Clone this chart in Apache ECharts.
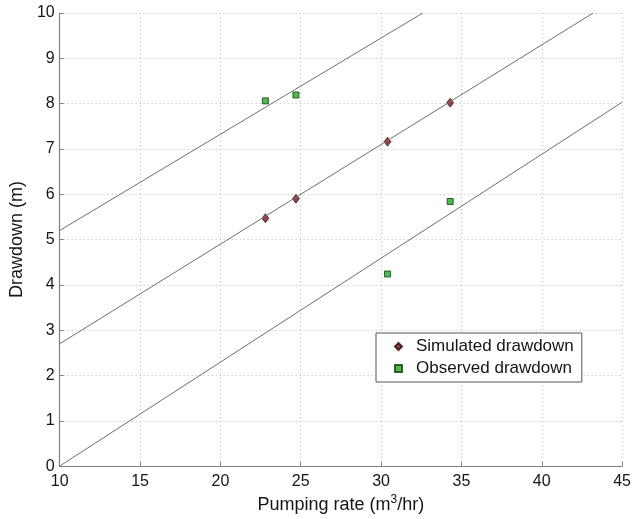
<!DOCTYPE html>
<html><head><meta charset="utf-8">
<script src="https://cdn.jsdelivr.net/npm/echarts@6/dist/echarts.min.js"></script>
<style>html,body{margin:0;padding:0;background:#fff}#c{width:634px;height:519px}</style>
</head><body><div id="c"></div>
<script>
const xTicks = [10, 15, 20, 25, 30, 35, 40, 45];
const yTicks = [0, 1, 2, 3, 4, 5, 6, 7, 8, 9, 10];
const pumpingRate = [22.8, 24.7, 30.4, 34.3];
const simulated = [5.47, 5.90, 7.16, 8.02];
const observed = [8.06, 8.19, 4.24, 5.84];
const upperLine = [[10, 5.2], [32.6, 10]];
const middleLine = [[10, 2.7], [43.2, 10]];
const lowerLine = [[10, 0], [45, 8.03]];

const chart = echarts.init(document.getElementById('c'), null, {renderer: 'canvas'});
const lineStyle = {color: '#6e6e6e', width: 1};
const font = 'Liberation Sans, Arial, sans-serif';
const txt = '#151515';
chart.setOption({
  backgroundColor: '#fff',
  animation: false,
  grid: {left: 54, right: 11, top: 13, bottom: 51, containLabel: false},
  xAxis: {
    type: 'value', min: xTicks[0], max: xTicks[xTicks.length - 1], interval: 5,
    axisLine: {show: true, lineStyle: {color: '#808080', width: 1.2}},
    axisTick: {show: true, inside: true, length: 4, lineStyle: {color: '#808080'}},
    axisLabel: {color: txt, fontSize: 16, fontFamily: font, margin: 7},
    splitLine: {show: true, lineStyle: {color: '#b8b8b8', type: [1, 3], width: 1}},
    name: 'Pumping rate (m{sup|3}/hr)', nameLocation: 'middle', nameGap: 19,
    nameTextStyle: {color: txt, fontSize: 18, fontFamily: font,
      rich: {sup: {fontSize: 12, verticalAlign: 'top', padding: [0, 0, 10, 0], fontFamily: font, color: txt}}}
  },
  yAxis: {
    type: 'value', min: yTicks[0], max: yTicks[yTicks.length - 1], interval: 1,
    axisLine: {show: true, lineStyle: {color: '#808080', width: 1.2}},
    axisTick: {show: true, inside: true, length: 4, lineStyle: {color: '#808080'}},
    axisLabel: {color: txt, fontSize: 16, fontFamily: font, margin: 5},
    splitLine: {show: true, lineStyle: {color: '#b8b8b8', type: [1, 3], width: 1}},
    name: 'Drawdown (m)', nameLocation: 'middle', nameGap: 25, nameRotate: 90,
    nameTextStyle: {color: txt, fontSize: 18, fontFamily: font}
  },
  legend: {
    orient: 'vertical', left: 376, top: 333,
    backgroundColor: '#fff', borderColor: '#555', borderWidth: 1, borderRadius: 0,
    padding: [5, 8, 5, 18], itemGap: 5, itemWidth: 7, itemHeight: 7,
    textStyle: {color: txt, fontSize: 17, fontFamily: font, padding: [0, 0, 0, 9]},
    data: ['Simulated drawdown', 'Observed drawdown']
  },
  series: [
    {type: 'line', data: upperLine, symbol: 'none', lineStyle: lineStyle, silent: true},
    {type: 'line', data: middleLine, symbol: 'none', lineStyle: lineStyle, silent: true},
    {type: 'line', data: lowerLine, symbol: 'none', lineStyle: lineStyle, silent: true},
    {name: 'Simulated drawdown', type: 'scatter', symbol: 'diamond', symbolSize: [7, 9],
     data: pumpingRate.map((x, i) => [x, simulated[i]]),
     itemStyle: {color: '#7d1018', borderColor: '#2a0808', borderWidth: 0.8}},
    {name: 'Observed drawdown', type: 'scatter', symbol: 'rect', symbolSize: 6,
     data: pumpingRate.map((x, i) => [x, observed[i]]),
     itemStyle: {color: '#25a825', borderColor: '#0d400d', borderWidth: 1}}
  ]
});
</script></body></html>
